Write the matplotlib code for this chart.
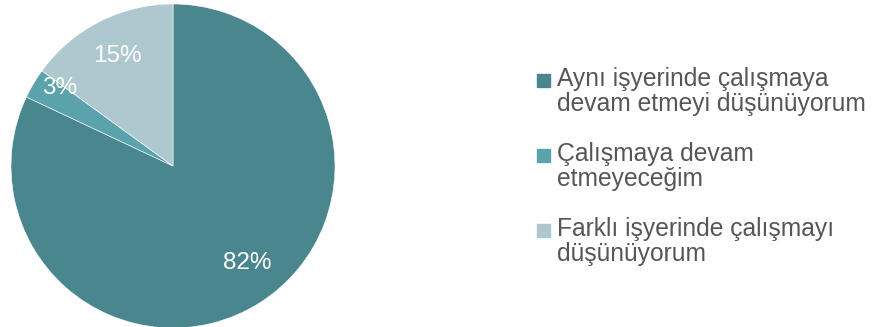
import numpy as np
import matplotlib.pyplot as plt
from matplotlib.patches import Rectangle

labels = ["Aynı işyerinde çalışmaya\ndevam etmeyi düşünüyorum",
          "Çalışmaya devam\netmeyeceğim",
          "Farklı işyerinde çalışmayı\ndüşünüyorum"]
values = [82, 3, 15]
colors = ["#4a868d", "#5aa3ad", "#aec8cf"]
label_dist = [0.75, 0.85, 0.76]
label_shift = [5, -4, 0]  # degrees, nudges label towards the reference spot

plt.rcParams['font.family'] = ['Liberation Sans', 'DejaVu Sans']

fig = plt.figure(figsize=(8.72, 3.27), dpi=100)
ax = fig.add_axes([11/872, -1/327, 324/872, 324/327])
wedges, _ = ax.pie(values, colors=colors, startangle=90, counterclock=False,
                   wedgeprops=dict(linewidth=0.4, edgecolor="white"))
ax.set_xlim(-1, 1)
ax.set_ylim(-1, 1)
ax.set_aspect("equal")

for w, v, d, s in zip(wedges, values, label_dist, label_shift):
    th = np.deg2rad((w.theta1 + w.theta2) / 2 + s)
    ax.text(d * np.cos(th), d * np.sin(th), f"{v}%", ha="center", va="center",
            color="white", fontsize=17.5)

# legend
y0 = 1 - 80/327
step = 75/327
for i, (lab, c) in enumerate(zip(labels, colors)):
    y = y0 - i * step
    fig.add_artist(Rectangle((537/872, y - 7/327), 13/872, 13/327,
                             transform=fig.transFigure, color=c))
    fig.text(557/872, y + 13/327, lab, ha="left", va="top", fontsize=17.7,
             color="#565656", linespacing=1.05)

fig.savefig("out.png", dpi=100)
